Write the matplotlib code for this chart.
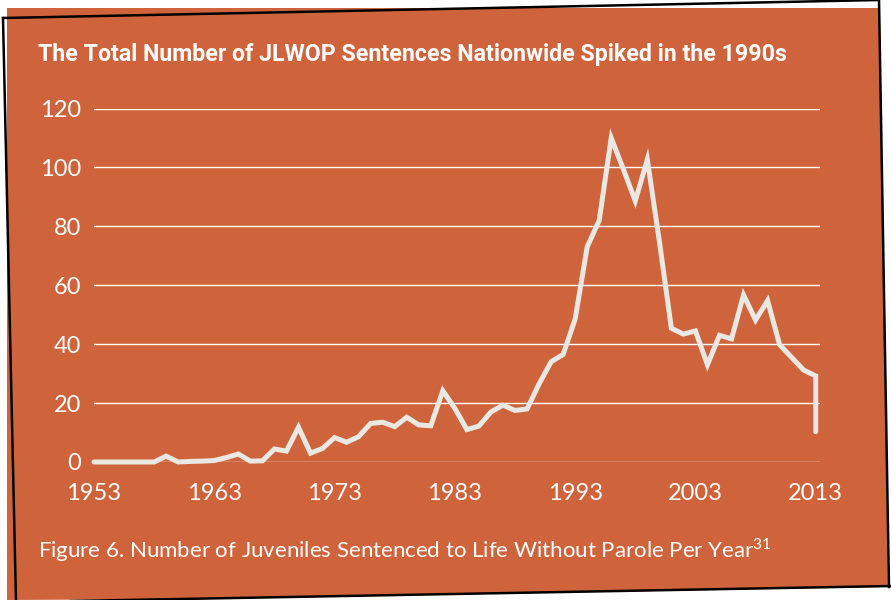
import matplotlib
matplotlib.use("Agg")
import matplotlib.pyplot as plt
from matplotlib.patches import Polygon
from matplotlib.lines import Line2D

# JLWOP sentences per year (last value = partial count drawn at 2013)
years = list(range(1953, 2014)) + [2013]
sentences = [0, 0, 0, 0, 0, 0, 2, 0, 0.2, 0.3,
             0.5, 1.5, 2.7, 0.3, 0.4, 4.4, 3.7, 11.8, 3, 4.6,
             8.3, 6.7, 8.6, 13.1, 13.5, 12, 15.2, 12.6, 12.3, 24.2,
             18.2, 11, 12.2, 17, 19.3, 17.5, 18, 26.5, 34, 36.5,
             48.5, 73, 82, 110, 99.5, 88.6, 102.7, 75, 45.4, 43.4,
             44.5, 33, 43, 41.8, 56.7, 48.2, 54.8, 39.8, 35.5, 31.2,
             29.2, 10.3]
xticks = [1953, 1963, 1973, 1983, 1993, 2003, 2013]
yticks = [0, 20, 40, 60, 80, 100, 120]

title = "The Total Number of JLWOP Sentences Nationwide Spiked in the 1990s"
caption = "Figure 6. Number of Juveniles Sentenced to Life Without Parole Per Year$^{31}$"

orange = "#CF643C"
linecol = "#EAE8E2"

plt.rcParams['mathtext.fontset'] = 'custom'
plt.rcParams['mathtext.rm'] = 'Lato'

fig = plt.figure(figsize=(8.91, 6), dpi=100)
fig.patch.set_facecolor("white")

# background frame in pixel coords
bg = fig.add_axes([0, 0, 1, 1])
bg.set_xlim(0, 891)
bg.set_ylim(600, 0)
bg.axis("off")
bg.add_patch(Polygon([(7, 8), (880, 8), (888, 587), (194, 599), (7, 600)],
                     closed=True, facecolor=orange, edgecolor="none"))
frame_x = [3, 879, 889]
frame_y = [18, 0, 587]
bg.add_line(Line2D(frame_x, frame_y, color="black", lw=1.8))
bg.add_line(Line2D([3, 16], [18, 602], color="black", lw=1.8))
bg.add_line(Line2D([16, 891], [602, 586], color="black", lw=1.8))

ax = fig.add_axes([94 / 891, 1 - 462 / 600, 726 / 891, 353.5 / 600])
ax.set_facecolor("none")
ax.plot(years, sentences, color=linecol, lw=3.6, solid_capstyle="round",
        solid_joinstyle="miter", clip_on=False, zorder=3)
ax.set_xlim(1953, 2013 + 4.3 / 12.03)
ax.set_ylim(0, 120)
ax.set_yticks(yticks)
ax.set_xticks(xticks)
ax.yaxis.grid(True, color="white", lw=1.0)
ax.set_axisbelow(True)
for s in ax.spines.values():
    s.set_visible(False)
ax.tick_params(axis="both", length=0, colors="white", labelsize=17)
ax.tick_params(axis="y", pad=9)
ax.tick_params(axis="x", pad=15)
for lab in ax.get_xticklabels() + ax.get_yticklabels():
    lab.set_family("Lato")

fig.text(38 / 891, 1 - 55 / 600, title, color="white", fontsize=16.7,
         fontweight="bold", family="Roboto", va="center", ha="left")
fig.text(38 / 891, 1 - 550 / 600, caption, color="white", fontsize=16,
         family="Lato", va="center", ha="left")

fig.savefig("out.png", dpi=100, facecolor="white")
